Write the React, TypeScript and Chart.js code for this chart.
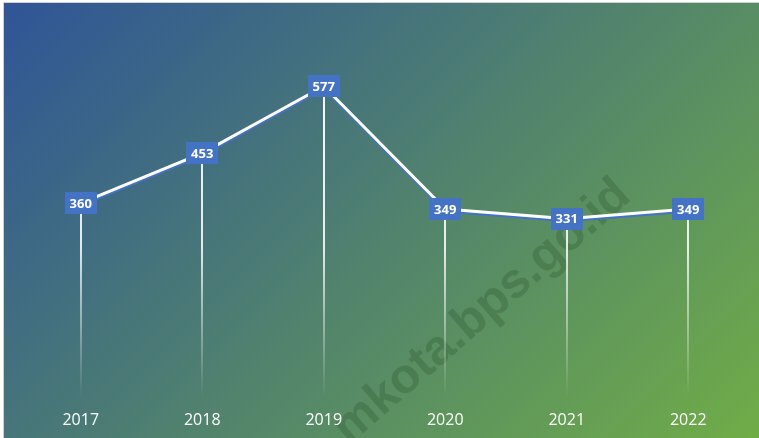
import React, { useEffect, useRef } from "react";
import { Chart, registerables } from "chart.js";

Chart.register(...registerables);

const categories = ["2017", "2018", "2019", "2020", "2021", "2022"];
const values = [360, 453, 577, 349, 331, 349];
const yMin = 0;
const yMax = 700;
const watermarkText = "mkota.bps.go.id";

const bgPlugin = {
  id: "bgPlugin",
  beforeDraw(chart: any) {
    const ctx = chart.ctx;
    const w = chart.width;
    const h = chart.height;
    ctx.save();
    ctx.fillStyle = "#ffffff";
    ctx.fillRect(0, 0, w, h);
    const g = ctx.createLinearGradient(4, 3, 599, 598);
    g.addColorStop(0, "#2F5597");
    g.addColorStop(1, "#70AD47");
    ctx.fillStyle = g;
    ctx.fillRect(4, 3, w - 4, h - 3);
    ctx.strokeStyle = "#D0D0D0";
    ctx.lineWidth = 1;
    ctx.beginPath();
    ctx.moveTo(3.5, h);
    ctx.lineTo(3.5, 2.5);
    ctx.lineTo(w, 2.5);
    ctx.stroke();
    // watermark
    ctx.translate(482, 312);
    ctx.rotate((-41 * Math.PI) / 180);
    ctx.font = "bold 49px 'Liberation Sans', Arial, sans-serif";
    ctx.textAlign = "center";
    ctx.textBaseline = "middle";
    ctx.fillStyle = "rgba(30,70,30,0.25)";
    ctx.fillText(watermarkText, 0, 0);
    ctx.restore();
  },
};

const dropLinePlugin = {
  id: "dropLinePlugin",
  beforeDatasetsDraw(chart: any) {
    const ctx = chart.ctx;
    const meta = chart.getDatasetMeta(0);
    const bottom = chart.chartArea.bottom;
    const top = chart.chartArea.top;
    ctx.save();
    const g = ctx.createLinearGradient(0, top, 0, bottom);
    g.addColorStop(0, "rgba(255,255,255,1)");
    g.addColorStop(0.6, "rgba(255,255,255,0.85)");
    g.addColorStop(1, "rgba(255,255,255,0)");
    ctx.strokeStyle = g;
    ctx.lineWidth = 2;
    meta.data.forEach((pt: any) => {
      const x = Math.round(pt.x);
      ctx.beginPath();
      ctx.moveTo(x, pt.y);
      ctx.lineTo(x, bottom - 2);
      ctx.stroke();
    });
    ctx.restore();
  },
};

const shadowPlugin = {
  id: "shadowPlugin",
  beforeDatasetDraw(chart: any) {
    const ctx = chart.ctx;
    ctx.save();
    ctx.shadowColor = "#4472C4";
    ctx.shadowOffsetX = 0;
    ctx.shadowOffsetY = 2;
    ctx.shadowBlur = 0;
  },
  afterDatasetDraw(chart: any) {
    chart.ctx.restore();
  },
};

const labelPlugin = {
  id: "labelPlugin",
  afterDatasetsDraw(chart: any) {
    const ctx = chart.ctx;
    const meta = chart.getDatasetMeta(0);
    ctx.save();
    ctx.font = "bold 13px 'Open Sans', sans-serif";
    ctx.textAlign = "center";
    ctx.textBaseline = "middle";
    meta.data.forEach((pt: any, i: number) => {
      const text = String(values[i]);
      const bw = 32;
      const bh = 22;
      ctx.fillStyle = "#4472C4";
      ctx.fillRect(Math.round(pt.x - bw / 2), Math.round(pt.y - bh / 2), bw, bh);
      ctx.fillStyle = "#ffffff";
      ctx.fillText(text, pt.x, pt.y + 1);
    });
    ctx.restore();
  },
};

export default function App() {
  const ref = useRef<HTMLCanvasElement | null>(null);
  useEffect(() => {
    if (!ref.current) return;
    const chart = new Chart(ref.current, {
      type: "line",
      data: {
        labels: categories,
        datasets: [
          {
            data: values,
            borderColor: "#ffffff",
            borderWidth: 3,
            pointRadius: 0,
            tension: 0,
            fill: false,
          },
        ],
      },
      options: {
        responsive: false,
        animation: false,
        layout: { padding: { left: 20, right: 10, top: 20, bottom: 9 } },
        plugins: { legend: { display: false }, tooltip: { enabled: false } },
        scales: {
          x: {
            offset: true,
            grid: { display: false, drawTicks: false },
            border: { display: false },
            afterFit: (scale: any) => {
              scale.height = 32;
            },
            ticks: {
              color: "#ffffff",
              padding: 14,
              maxRotation: 0,
              font: { family: "'Open Sans', sans-serif", size: 16 },
            },
          },
          y: { display: false, min: yMin, max: yMax },
        },
      },
      plugins: [bgPlugin, dropLinePlugin, shadowPlugin, labelPlugin],
    });
    return () => chart.destroy();
  }, []);
  return (
    <div style={{ position: "fixed", left: 0, top: 0, width: 759, height: 438 }}>
      <canvas ref={ref} width={759} height={438} style={{ display: "block" }} />
    </div>
  );
}
